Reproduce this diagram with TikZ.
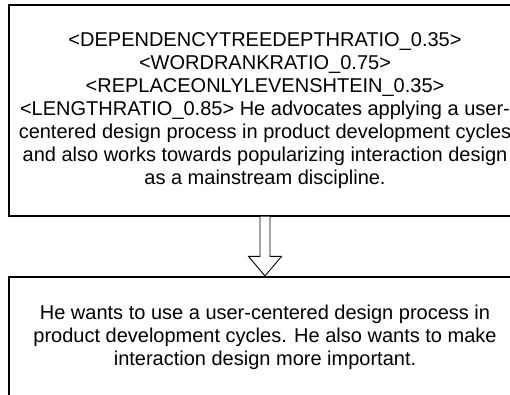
\documentclass[tikz,border=0pt]{standalone}
\usepackage{fontspec}
\setmainfont{Liberation Sans}
\usetikzlibrary{calc}
\begin{document}
\begin{tikzpicture}[x=1pt,y=-1pt,
  box/.style={draw, line width=1.2pt, rectangle, minimum width=512pt, align=center, inner sep=0pt, font=\fontsize{20pt}{23pt}\selectfont},
  blockarrow/.style={draw, line width=0.9pt, fill=white, line join=miter}]
\useasboundingbox (0,0) rectangle (510,394);
\clip (0,0) rectangle (510,394);
\node[box, minimum height=211pt] (src) at (265,110.5) {<DEPENDENCYTREEDEPTHRATIO\_0.35>\\<WORDRANKRATIO\_0.75>\\<REPLACEONLYLEVENSHTEIN\_0.35>\\<LENGTHRATIO\_0.85> He advocates applying a user-\\centered design process in product development cycles\\and also works towards popularizing interaction design\\as a mainstream discipline.};
\node[box, minimum height=120pt] (tgt) at (265,337) {He wants to use a user-centered design process in\\product development cycles. He also wants to make\\interaction design more important.};
\coordinate (tip) at ($(tgt.north)+(0,-0.5)$);
\draw[blockarrow] ($(src.south)+(-5,0)$) -- ($(tip)+(-5,-19.5)$) -- ($(tip)+(-16.5,-19.5)$) -- (tip) -- ($(tip)+(16.5,-19.5)$) -- ($(tip)+(5,-19.5)$) -- ($(src.south)+(5,0)$);
\end{tikzpicture}
\end{document}
